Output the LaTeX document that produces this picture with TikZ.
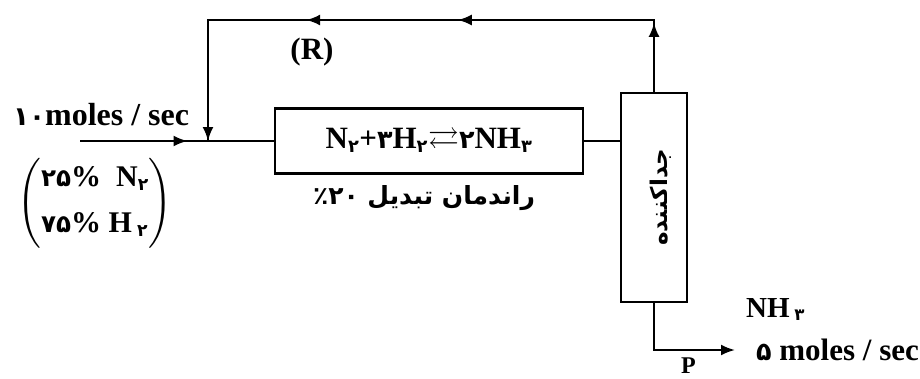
\documentclass[tikz,border=0pt]{standalone}
\usepackage{amssymb}
\usepackage{fontspec}
\setmainfont{Liberation Serif}
\newfontfamily\farsi[Script=Arabic]{DejaVu Sans}
\newfontfamily\fadigit[Script=Arabic,Scale=0.82]{DejaVu Sans}
\TeXXeTstate=1
\usetikzlibrary{arrows.meta,calc}
\newcommand{\fanum}[1]{{\fadigit\bfseries #1}}
\newcommand{\subfa}[1]{\textsubscript{\fanum{#1}}}

\begin{document}
\begin{tikzpicture}[x=1pt,y=1pt,yscale=-1,line width=2.2pt,
  unit/.style={draw,rectangle,inner sep=0pt},
  tip/.style={-{Latex[length=14pt,width=11pt]}},
  lbl/.style={inner sep=0pt,font=\bfseries}]
%set diagram: 920 x 378
\useasboundingbox (0,0) rectangle (920,378);

%Reactor and separator
\node[unit,minimum width=308,minimum height=65] (reactor) at (429,141)
  {\fontsize{31}{34}\selectfont\bfseries N\subfa{۲}+\fanum{۳}H\subfa{۲}$\rightleftarrows$\fanum{۲}NH\subfa{۳}};
\node[unit,minimum width=66,minimum height=209] (sep) at (654,197.5) {};
\node[rotate=90,inner sep=0pt,font=\farsi\bfseries\fontsize{23}{26}\selectfont] (seplabel) at ([xshift=7pt]sep.center) {\beginR جداکننده\endR};

%Stream points
\coordinate (feed) at (80,141);
\coordinate (mix) at (208,141);
\coordinate (ltop) at (208,20);
\coordinate (rtop) at (sep.north |- ltop);
\coordinate (prod) at (735,350);

%Streams
\draw (feed) -- (reactor.west);
\draw[tip] (feed) -- ($(feed)!0.84!(mix)$);
\draw (reactor.east) -- (sep.west |- reactor.east);
\draw (sep.north) -- (rtop) -- (ltop) -- (mix);
\draw[tip] (sep.north) -- ($(sep.north)!0.96!(rtop)$);
\draw[tip] (rtop) -- ($(rtop)!0.44!(ltop)$);
\draw[tip] (rtop) -- ($(rtop)!0.78!(ltop)$);
\draw[tip] (ltop) -- (mix);
\draw[tip] (sep.south) |- (prod);

% Text Node
\node[lbl,anchor=base west,font=\bfseries\fontsize{32}{36}\selectfont] (feedlabel) at (12,125) {\fanum{۱۰}moles / sec};
\node[lbl,font=\bfseries\fontsize{31}{34}\selectfont] (rlabel) at (312,52) {(R)};
\node[lbl,font=\bfseries\fontsize{30}{34}\selectfont] (feedmix) at (95,203)
  {$\left(\vcenter{\hbox{\begin{tabular}{@{}l@{}}\fanum{۲۵}\%\ \ N\subfa{۲}\\[12pt]\fanum{۷۵}\% H\,\subfa{۲}\end{tabular}}}\right)$};
\node[inner sep=0pt,font=\farsi\bfseries\fontsize{25}{28}\selectfont] (yield) at (424,198) {\beginR راندمان تبدیل \beginL٪۲۰\endL\endR};
\node[lbl,anchor=base west,font=\bfseries\fontsize{29}{32}\selectfont] (nh3) at (745,317) {NH\,\subfa{۳}};
\node[lbl,anchor=base west,font=\bfseries\fontsize{31}{34}\selectfont] (prate) at (755,360) {\fanum{۵} moles / sec};
\node[lbl,anchor=base west,font=\bfseries\fontsize{24}{28}\selectfont] (plabel) at (680,373) {P};

\end{tikzpicture}
\end{document}
